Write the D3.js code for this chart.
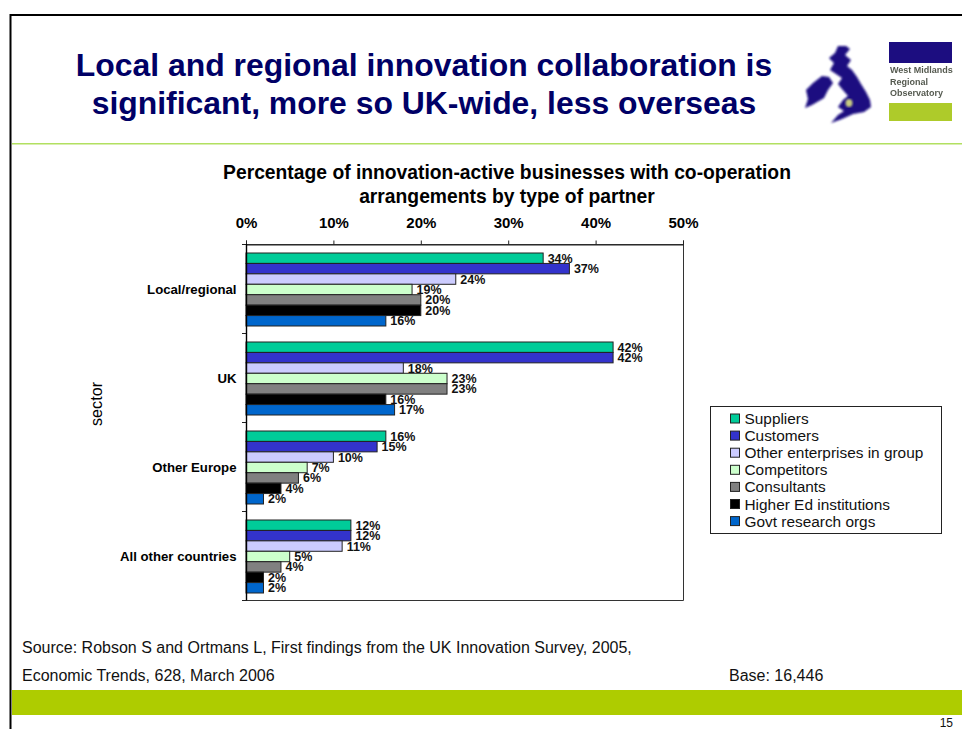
<!DOCTYPE html>
<html>
<head>
<meta charset="utf-8">
<script src="https://cdn.jsdelivr.net/npm/d3@7"></script>
<style>
html,body{margin:0;padding:0;background:#fff;}
svg{display:block;font-family:"Liberation Sans",Arial,sans-serif;}
</style>
</head>
<body>
<svg id="slide" width="962" height="729"></svg>
<script>
const sectors = ["Local/regional", "UK", "Other Europe", "All other countries"];
const seriesNames = ["Suppliers", "Customers", "Other enterprises in group", "Competitors", "Consultants", "Higher Ed institutions", "Govt research orgs"];
const seriesColors = ["#00cc99", "#3333cc", "#ccccff", "#ccffcc", "#808080", "#000000", "#0066cc"];
const suppliers = [34, 42, 16, 12];
const customers = [37, 42, 15, 12];
const otherEnterprises = [24, 18, 10, 11];
const competitors = [19, 23, 7, 5];
const consultants = [20, 23, 6, 4];
const higherEd = [20, 16, 4, 2];
const govtResearch = [16, 17, 2, 2];
const seriesValues = [suppliers, customers, otherEnterprises, competitors, consultants, higherEd, govtResearch];
const xTicks = [0, 10, 20, 30, 40, 50];
const titleLines = ["Local and regional innovation collaboration is", "significant, more so UK-wide, less overseas"];
const chartTitleLines = ["Percentage of innovation-active businesses with co-operation", "arrangements by type of partner"];

const svg = d3.select("#slide");
const navy = "#000066";
const defs = svg.append("defs");
defs.append("filter").attr("id", "soft").append("feGaussianBlur").attr("stdDeviation", 1);
defs.append("filter").attr("id", "softText").append("feGaussianBlur").attr("stdDeviation", 0.7);

// Slide frame, rule and footer band
svg.append("path").attr("d", "M10.5,729V15H962").attr("fill", "none").attr("stroke", "#000").attr("stroke-width", 2);
svg.append("rect").attr("x", 12).attr("y", 143).attr("width", 950).attr("height", 1.5).attr("fill", "#b2e060");
svg.append("rect").attr("x", 12).attr("y", 690).attr("width", 950).attr("height", 25).attr("fill", "#aecc00");

// Slide heading
svg.append("g").selectAll("text").data(titleLines).join("text")
  .attr("x", 424).attr("y", (d, i) => 76 + i * 38)
  .attr("text-anchor", "middle").attr("font-size", 31.9).attr("font-weight", 700).attr("fill", navy)
  .text(d => d);

// Logos: British Isles silhouette and observatory block
const logo = svg.append("g");
const map = logo.append("g").attr("filter", "url(#soft)").attr("fill", "#1a0a80");
map.append("path").attr("d", "M838,46 L846,46 L850,49 L845,55 L851,60 L847,66 L852,70 L857,77 L861,84 L866,92 L870,100 L871,107 L864,112 L853,114 L842,119 L831,123 L838,115 L844,111 L838,107 L843,100 L848,96 L842,89 L838,84 L842,78 L836,74 L830,70 L834,63 L829,58 L835,53 Z");
map.append("path").attr("d", "M813,83 L822,76 L829,77 L833,83 L828,90 L824,98 L812,105 L805,108 L808,99 L806,90 Z");
logo.append("ellipse").attr("cx", 849).attr("cy", 103).attr("rx", 3.5).attr("ry", 4).attr("fill", "#c8cc80").attr("filter", "url(#soft)");
logo.append("rect").attr("x", 889).attr("y", 42).attr("width", 63).attr("height", 21).attr("fill", "#1a0a80").attr("filter", "url(#softText)");
logo.append("rect").attr("x", 889).attr("y", 103).attr("width", 63).attr("height", 18).attr("fill", "#aecb2c").attr("filter", "url(#softText)");
logo.append("g").attr("filter", "url(#softText)").selectAll("text")
  .data(["West Midlands", "Regional", "Observatory"]).join("text")
  .attr("x", 890).attr("y", (d, i) => 73 + i * 11.5)
  .attr("font-size", 9).attr("font-weight", 700).attr("fill", "#555a50")
  .text(d => d);

// Chart heading
svg.append("g").selectAll("text").data(chartTitleLines).join("text")
  .attr("x", 507).attr("y", (d, i) => 179 + i * 24)
  .attr("text-anchor", "middle").attr("font-size", 19.3).attr("font-weight", 700).attr("fill", "#000")
  .text(d => d);

// Scales
const plot = {left: 246, right: 683, top: 244, bottom: 600};
const x = d3.scaleLinear().domain([0, 50]).range([plot.left, plot.right]);
const y0 = d3.scaleBand().domain(sectors).range([plot.top, plot.bottom]);
const y1 = d3.scaleBand().domain(seriesNames).range([9, y0.bandwidth() - 7]);

// Plot border on the far sides
svg.append("path")
  .attr("d", `M${plot.left},${plot.top + 0.5}H${plot.right + 0.5}V${plot.bottom + 0.5}H${plot.left}`)
  .attr("fill", "none").attr("stroke", "#333").attr("stroke-width", 1);

// Bars
const rows = sectors.flatMap((s, i) => seriesNames.map((n, j) => ({sector: s, name: n, color: seriesColors[j], value: seriesValues[j][i]})));
const barG = svg.append("g");
barG.selectAll("rect").data(rows).join("rect")
  .attr("x", plot.left)
  .attr("y", d => y0(d.sector) + y1(d.name))
  .attr("width", d => x(d.value) - plot.left)
  .attr("height", y1.bandwidth())
  .attr("fill", d => d.color)
  .attr("stroke", "#222").attr("stroke-width", 1);

// Value labels
svg.append("g").selectAll("text").data(rows).join("text")
  .attr("x", d => x(d.value) + 4.5)
  .attr("y", d => y0(d.sector) + y1(d.name) + y1.bandwidth() / 2 + 4.5)
  .attr("font-size", 12.5).attr("font-weight", 700).attr("fill", "#111")
  .text(d => d.value + "%");

// Axes
const xAxis = d3.axisTop(x).tickValues(xTicks).tickFormat(d => d + "%").tickSize(4).tickPadding(13);
const gx = svg.append("g").attr("transform", `translate(0,${plot.top + 0.5})`).call(xAxis);
gx.select(".domain").attr("stroke", "#222");
gx.selectAll(".tick line").attr("stroke", "#222");
gx.selectAll("text").attr("font-size", 15).attr("font-weight", 700).attr("fill", "#000").attr("font-family", "inherit");

const tickYs = d3.range(sectors.length + 1).map(i => plot.top + i * y0.step());
svg.append("g").selectAll("line").data(tickYs).join("line")
  .attr("x1", plot.left - 4).attr("x2", plot.left).attr("y1", d => d + 0.5).attr("y2", d => d + 0.5)
  .attr("stroke", "#222");
svg.append("line").attr("x1", plot.left + 0.5).attr("x2", plot.left + 0.5).attr("y1", plot.top).attr("y2", plot.bottom + 0.5)
  .attr("stroke", "#000").attr("stroke-width", 1.4);

svg.append("g").selectAll("text").data(sectors).join("text")
  .attr("x", 236.5).attr("y", d => y0(d) + y0.bandwidth() / 2 + 5)
  .attr("text-anchor", "end").attr("font-size", 13.2).attr("font-weight", 700).attr("fill", "#000")
  .text(d => d);

svg.append("text").attr("transform", "translate(102,404) rotate(-90)")
  .attr("text-anchor", "middle").attr("font-size", 16.2).attr("fill", "#000").text("sector");

// Legend
const legend = svg.append("g").attr("transform", "translate(710.5,406.5)");
legend.append("rect").attr("width", 231).attr("height", 127).attr("fill", "#fff").attr("stroke", "#222");
const entry = legend.selectAll("g").data(seriesNames).join("g")
  .attr("transform", (d, i) => `translate(0,${12 + i * 17.1})`);
entry.append("rect").attr("x", 20).attr("y", -4.5).attr("width", 9).attr("height", 9)
  .attr("fill", (d, i) => seriesColors[i]).attr("stroke", "#222");
entry.append("text").attr("x", 34).attr("y", 5.5).attr("font-size", 15.4).attr("fill", "#111").text(d => d);

// Source notes and page number
const notes = [
  {t: "Source: Robson S and Ortmans L, First findings from the UK Innovation Survey, 2005,", x: 22, y: 653},
  {t: "Economic Trends, 628, March 2006", x: 22, y: 681},
  {t: "Base: 16,446", x: 729, y: 681}
];
svg.append("g").selectAll("text").data(notes).join("text")
  .attr("x", d => d.x).attr("y", d => d.y).attr("font-size", 16).attr("fill", "#111").text(d => d.t);
svg.append("text").attr("x", 953).attr("y", 726.5).attr("text-anchor", "end").attr("font-size", 12).attr("fill", "#111").text("15");
</script>
</body>
</html>
